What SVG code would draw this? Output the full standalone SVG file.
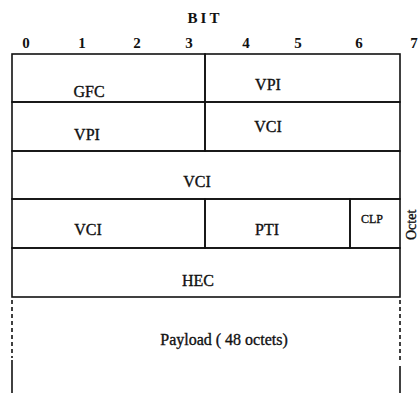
<svg xmlns="http://www.w3.org/2000/svg" width="420" height="393" viewBox="0 0 420 393">
<style>
.cell{fill:none;stroke:#111;stroke-width:1.6}
.lbl{font-family:'Liberation Serif','DejaVu Serif',serif;font-size:16px;fill:#111;stroke:#111;stroke-width:0.35;text-anchor:middle}
.sm{font-size:12px}
.dig{font-family:'Liberation Serif','DejaVu Serif',serif;font-size:15px;font-weight:bold;fill:#111;text-anchor:middle}
.side{stroke:#111;stroke-width:1.6;fill:none}
.dash{stroke-dasharray:4 3}
</style>
<rect width="420" height="393" fill="#fff"/>
<g id="header">
<text class="dig" x="205" y="23" letter-spacing="3">BIT</text>
<text class="dig" x="26" y="48">0</text>
<text class="dig" x="82" y="48">1</text>
<text class="dig" x="137" y="48">2</text>
<text class="dig" x="189" y="48">3</text>
<text class="dig" x="246" y="48">4</text>
<text class="dig" x="298" y="48">5</text>
<text class="dig" x="359" y="48">6</text>
<text class="dig" x="414" y="48">7</text>
</g>
<g id="gfc"><rect class="cell" x="12" y="54" width="193" height="48"/><text class="lbl" x="89" y="97">GFC</text></g>
<g id="vpi1"><rect class="cell" x="205" y="54" width="195" height="48"/><text class="lbl" x="268" y="90">VPI</text></g>
<g id="vpi2"><rect class="cell" x="12" y="102" width="193" height="49"/><text class="lbl" x="87" y="140">VPI</text></g>
<g id="vci1"><rect class="cell" x="205" y="102" width="195" height="49"/><text class="lbl" x="268" y="132">VCI</text></g>
<g id="vci2"><rect class="cell" x="12" y="151" width="388" height="48"/><text class="lbl" x="197" y="187">VCI</text></g>
<g id="vci3"><rect class="cell" x="12" y="199" width="193" height="49"/><text class="lbl" x="88" y="235">VCI</text></g>
<g id="pti"><rect class="cell" x="205" y="199" width="145" height="49"/><text class="lbl" x="267" y="235">PTI</text></g>
<g id="clp"><rect class="cell" x="350" y="199" width="50" height="49"/><text class="lbl sm" x="372" y="223">CLP</text></g>
<g id="hec"><rect class="cell" x="12" y="248" width="388" height="49"/><text class="lbl" x="198" y="286">HEC</text></g>
<g id="payload">
<line class="side dash" x1="12" y1="300" x2="12" y2="358"/>
<line class="side" x1="12" y1="360" x2="12" y2="393"/>
<line class="side dash" x1="400" y1="300" x2="400" y2="363"/>
<line class="side" x1="400" y1="366" x2="400" y2="393"/>
<text class="lbl" x="224" y="345">Payload ( 48 octets)</text>
</g>
<g id="octet"><text class="lbl" style="font-size:14px;text-anchor:start" transform="translate(416,240) rotate(-90)">Octet</text></g>
<g id="connectors"></g>
</svg>
